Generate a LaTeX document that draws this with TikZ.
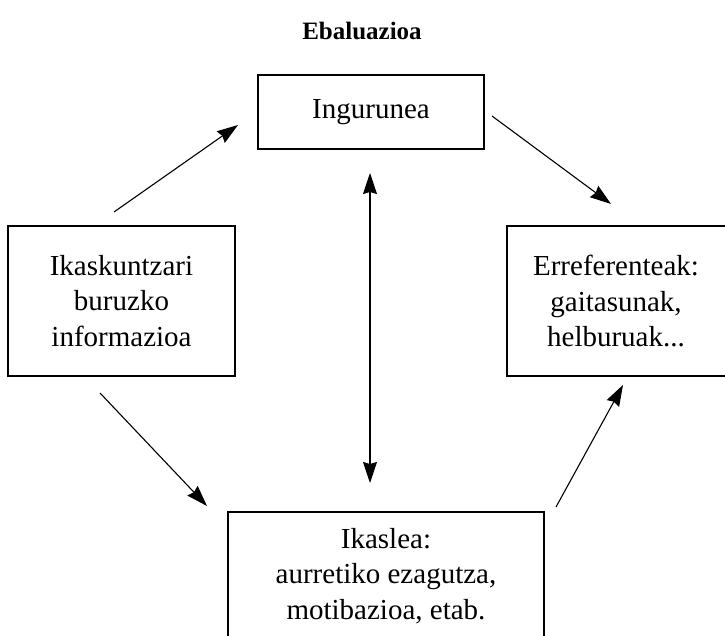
\documentclass[tikz,border=0pt]{standalone}
\usepackage{fontspec}
\setmainfont{Liberation Serif}
\usetikzlibrary{arrows.meta}

\tikzset{
  box/.style={draw, line width=1.3pt, rectangle, inner sep=0pt, align=center,
              font=\fontsize{29}{35.5}\selectfont},
  head/.style={Stealth[length=21pt, width=14pt, inset=2pt]},
  link/.style={line width=1.1pt, -{Stealth[length=21pt, width=14pt, inset=2pt]}},
  twoway/.style={line width=1.1pt, {Stealth[length=21pt, width=14pt, inset=2pt]}-{Stealth[length=21pt, width=14pt, inset=2pt]}},
}

\begin{document}
\begin{tikzpicture}[x=1pt, y=-1pt]
  \useasboundingbox (0,0) rectangle (725,636);
  \clip (0,0) rectangle (725,636);

  % title
  \node[font=\fontsize{25}{30}\selectfont\bfseries] (title) at (362,31) {Ebaluazioa};

  % boxes
  \node[box, minimum width=226pt, minimum height=74pt] (env) at (371,112) {Ingurunea};
  \node[box, minimum width=227pt, minimum height=150pt] (info) at (121.5,301)
    {Ikaskuntzari\\buruzko\\informazioa};
  \node[box, minimum width=226pt, minimum height=150pt, text width=226pt] (ref) at (620,301)
    {\hspace*{-8pt}Erreferenteak:\\\hspace*{-8pt}gaitasunak,\\\hspace*{-8pt}helburuak...};
  \node[box, minimum width=316pt, minimum height=128pt] (learner) at (386,576)
    {Ikaslea:\\aurretiko ezagutza,\\motibazioa, etab.};

  % arrow end points
  \coordinate (a1s) at (114,212);  \coordinate (a1e) at (238,125);
  \coordinate (a2s) at (492,116);  \coordinate (a2e) at (611,204);
  \coordinate (a3s) at (100,393);  \coordinate (a3e) at (207,506);
  \coordinate (a4s) at (556,507);  \coordinate (a4e) at (623,385);
  \coordinate (a5s) at (370,173);  \coordinate (a5e) at (370,483);

  % connectors
  \draw[link] (a1s) -- (a1e);
  \draw[link] (a2s) -- (a2e);
  \draw[link] (a3s) -- (a3e);
  \draw[link] (a4s) -- (a4e);
  \draw[twoway] (a5s) -- (a5e);
\end{tikzpicture}
\end{document}
